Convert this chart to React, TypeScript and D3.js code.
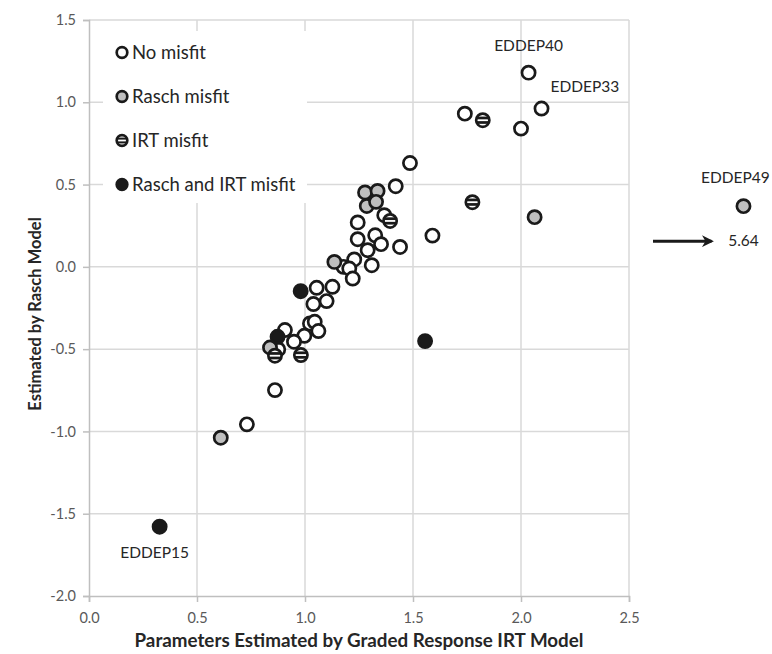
import React, { useRef, useEffect } from "react";
import * as d3 from "d3";

// values (x = graded response IRT, y = Rasch)
const noMisfitX = [2.035, 2.095, 1.74, 2.0, 1.59, 1.486, 1.42, 1.367, 1.244, 1.244, 1.325, 1.352, 1.44, 1.29, 1.228, 1.178, 1.205, 1.309, 1.221, 1.054, 1.127, 1.039, 1.1, 1.023, 1.045, 1.062, 0.907, 0.997, 0.949, 0.876, 0.861, 0.731];
const noMisfitY = [1.18, 0.962, 0.931, 0.84, 0.19, 0.631, 0.49, 0.314, 0.27, 0.168, 0.192, 0.138, 0.121, 0.101, 0.045, 0.0, -0.01, 0.01, -0.071, -0.127, -0.121, -0.226, -0.208, -0.344, -0.334, -0.39, -0.384, -0.419, -0.455, -0.502, -0.749, -0.957];

const raschMisfitX = [2.063, 1.278, 1.336, 1.286, 1.329, 1.136, 0.838, 0.61];
const raschMisfitY = [0.302, 0.452, 0.461, 0.37, 0.395, 0.03, -0.49, -1.038];

const irtMisfitX = [1.823, 1.775, 1.394, 0.861, 0.981];
const irtMisfitY = [0.891, 0.393, 0.279, -0.54, -0.536];

const bothMisfitX = [0.327, 0.98, 0.873, 1.556];
const bothMisfitY = [-1.579, -0.148, -0.425, -0.451];

// EDDEP49 lies off the axis (x = 5.64); drawn past the right edge
const outlierName = "EDDEP49";
const outlierTrueX = 5.64;
const outlierShownX = 3.03;
const outlierY = 0.369;

const namedItems = ["EDDEP40", "EDDEP33", "EDDEP15"];
const namedX = [2.035, 2.095, 0.327];
const namedY = [1.18, 0.962, -1.579];

const xTicks = [0, 0.5, 1, 1.5, 2, 2.5];
const yTicks = [-2, -1.5, -1, -0.5, 0, 0.5, 1, 1.5];
const legendLabels = ["No misfit", "Rasch misfit", "IRT misfit", "Rasch and IRT misfit"];

const W = 772;
const H = 654;
const FONT = "Lato, 'Open Sans', sans-serif";

type Kind = "none" | "rasch" | "irt" | "both";

export default function App() {
  const svgRef = useRef<SVGSVGElement>(null);

  useEffect(() => {
    if (!svgRef.current) return;
    const svg = d3.select(svgRef.current);
    svg.selectAll("*").remove();

    const x = d3.scaleLinear().domain([0, 2.5]).range([89, 629]);
    const y = d3.scaleLinear().domain([-2, 1.5]).range([596, 20]);
    const r = 6.6;

    const defs = svg.append("defs");
    defs.append("clipPath").attr("id", "dotClip")
      .append("circle").attr("r", r).attr("cx", 0).attr("cy", 0);
    defs.append("clipPath").attr("id", "legClip")
      .append("circle").attr("r", 5.5).attr("cx", 0).attr("cy", 0);
    defs.append("marker").attr("id", "arrowHead")
      .attr("viewBox", "0 0 10 10").attr("refX", 8).attr("refY", 5)
      .attr("markerWidth", 4).attr("markerHeight", 4).attr("orient", "auto")
      .append("path").attr("d", "M0,0 L10,5 L0,10 L3,5 Z").attr("fill", "#1a1a1a");

    // gridlines
    const grid = svg.append("g").attr("stroke", "#d9d9d9").attr("stroke-width", 1.5);
    grid.selectAll("line.v").data(xTicks.slice(1)).join("line")
      .attr("x1", d => x(d)).attr("x2", d => x(d)).attr("y1", y(-2)).attr("y2", y(1.5));
    grid.selectAll("line.h").data(yTicks.slice(1)).join("line")
      .attr("x1", x(0)).attr("x2", x(2.5)).attr("y1", d => y(d)).attr("y2", d => y(d));

    // axes
    const xAxis = svg.append("g").attr("transform", `translate(0,${y(-2)})`)
      .call(d3.axisBottom(x).tickValues(xTicks).tickFormat(d3.format(".1f")).tickSizeOuter(0).tickSize(6).tickPadding(6));
    const yAxis = svg.append("g").attr("transform", `translate(${x(0)},0)`)
      .call(d3.axisLeft(y).tickValues(yTicks).tickFormat(d3.format(".1f")).tickSizeOuter(0).tickSize(6).tickPadding(7));
    [xAxis, yAxis].forEach(a => {
      a.select(".domain").attr("stroke", "#bfbfbf").attr("stroke-width", 1.5);
      a.selectAll(".tick line").attr("stroke", "#bfbfbf").attr("stroke-width", 1.5);
      a.selectAll(".tick text").attr("fill", "#595959").attr("font-size", 14.5).attr("font-family", FONT);
    });
    yAxis.selectAll(".tick text").text(d => d3.format(".1f")(d as number).replace("−", "-"));
    xAxis.selectAll(".tick text").attr("dy", "1em");

    // axis titles
    svg.append("text").attr("x", (x(0) + x(2.5)) / 2).attr("y", 647)
      .attr("text-anchor", "middle").attr("font-family", FONT).attr("font-weight", "bold")
      .attr("font-size", 18.8).attr("fill", "#262626")
      .text("Parameters Estimated by Graded Response IRT Model");
    svg.append("text")
      .attr("transform", `translate(41,${(y(-2) + y(1.5)) / 2 + 6}) rotate(-90)`)
      .attr("text-anchor", "middle").attr("font-family", FONT).attr("font-weight", "bold")
      .attr("font-size", 16.5).attr("fill", "#262626")
      .text("Estimated by Rasch Model");

    const drawDot = (g: d3.Selection<SVGGElement, unknown, null, undefined>, kind: Kind, rad: number, clip: string) => {
      const fill = kind === "rasch" ? "#bfbfbf" : kind === "both" ? "#1a1a1a" : "#ffffff";
      g.append("circle").attr("r", rad).attr("fill", fill);
      if (kind === "irt") {
        const c = g.append("g").attr("clip-path", `url(#${clip})`);
        c.append("rect").attr("x", -rad).attr("width", rad * 2).attr("y", -rad * 0.55).attr("height", rad * 1.1).attr("fill", "#1a1a1a");
        c.append("rect").attr("x", -rad).attr("width", rad * 2).attr("y", -0.9).attr("height", 1.8).attr("fill", "#ffffff");
      }
      g.append("circle").attr("r", rad).attr("fill", "none").attr("stroke", "#1a1a1a").attr("stroke-width", 2.7);
    };

    const series: [Kind, number[], number[]][] = [
      ["none", noMisfitX, noMisfitY],
      ["rasch", raschMisfitX, raschMisfitY],
      ["irt", irtMisfitX, irtMisfitY],
      ["both", bothMisfitX, bothMisfitY],
    ];
    const pts = svg.append("g");
    series.forEach(([kind, xs, ys]) => {
      xs.forEach((xv, i) => {
        const g = pts.append("g").attr("transform", `translate(${x(xv)},${y(ys[i])})`);
        drawDot(g, kind, r, "dotClip");
      });
    });

    // outlier beyond the axis
    const og = pts.append("g").attr("transform", `translate(${x(outlierShownX)},${y(outlierY)})`);
    drawDot(og, "rasch", r, "dotClip");
    svg.append("text").attr("x", x(outlierShownX) - 8).attr("y", y(outlierY) - 23)
      .attr("text-anchor", "middle").attr("font-family", FONT).attr("font-size", 15.5).attr("fill", "#262626")
      .text(outlierName);
    svg.append("line").attr("x1", x(2.5) + 24).attr("x2", x(outlierShownX) - 32)
      .attr("y1", y(outlierY) + 35).attr("y2", y(outlierY) + 35)
      .attr("stroke", "#1a1a1a").attr("stroke-width", 3).attr("marker-end", "url(#arrowHead)");
    svg.append("text").attr("x", x(outlierShownX)).attr("y", y(outlierY) + 40)
      .attr("text-anchor", "middle").attr("font-family", FONT).attr("font-size", 15.5).attr("fill", "#262626")
      .text(String(outlierTrueX));

    // point labels
    const offsets: [number, number, string][] = [[0, -22, "middle"], [9, -17, "start"], [-5, 31, "middle"]];
    namedItems.forEach((name, i) => {
      svg.append("text").attr("x", x(namedX[i]) + offsets[i][0]).attr("y", y(namedY[i]) + offsets[i][1])
        .attr("text-anchor", offsets[i][2]).attr("font-family", FONT).attr("font-size", 15.5).attr("fill", "#262626")
        .text(name);
    });

    // legend
    const leg = svg.append("g");
    leg.append("rect").attr("x", 103).attr("y", 31).attr("width", 204).attr("height", 172).attr("fill", "#ffffff");
    legendLabels.forEach((label, i) => {
      const ly = 52.5 + i * 44;
      const kinds: Kind[] = ["none", "rasch", "irt", "both"];
      const g = leg.append("g").attr("transform", `translate(122,${ly})`);
      drawDot(g, kinds[i], 5.3, "legClip");
      leg.append("text").attr("x", 132).attr("y", ly + 6.5).attr("font-family", FONT)
        .attr("font-size", 18.5).attr("fill", "#262626").text(label);
    });
  }, []);

  return (
    <svg ref={svgRef} width={W} height={H}
      style={{ position: "absolute", left: 0, top: 0, background: "#ffffff" }} />
  );
}
